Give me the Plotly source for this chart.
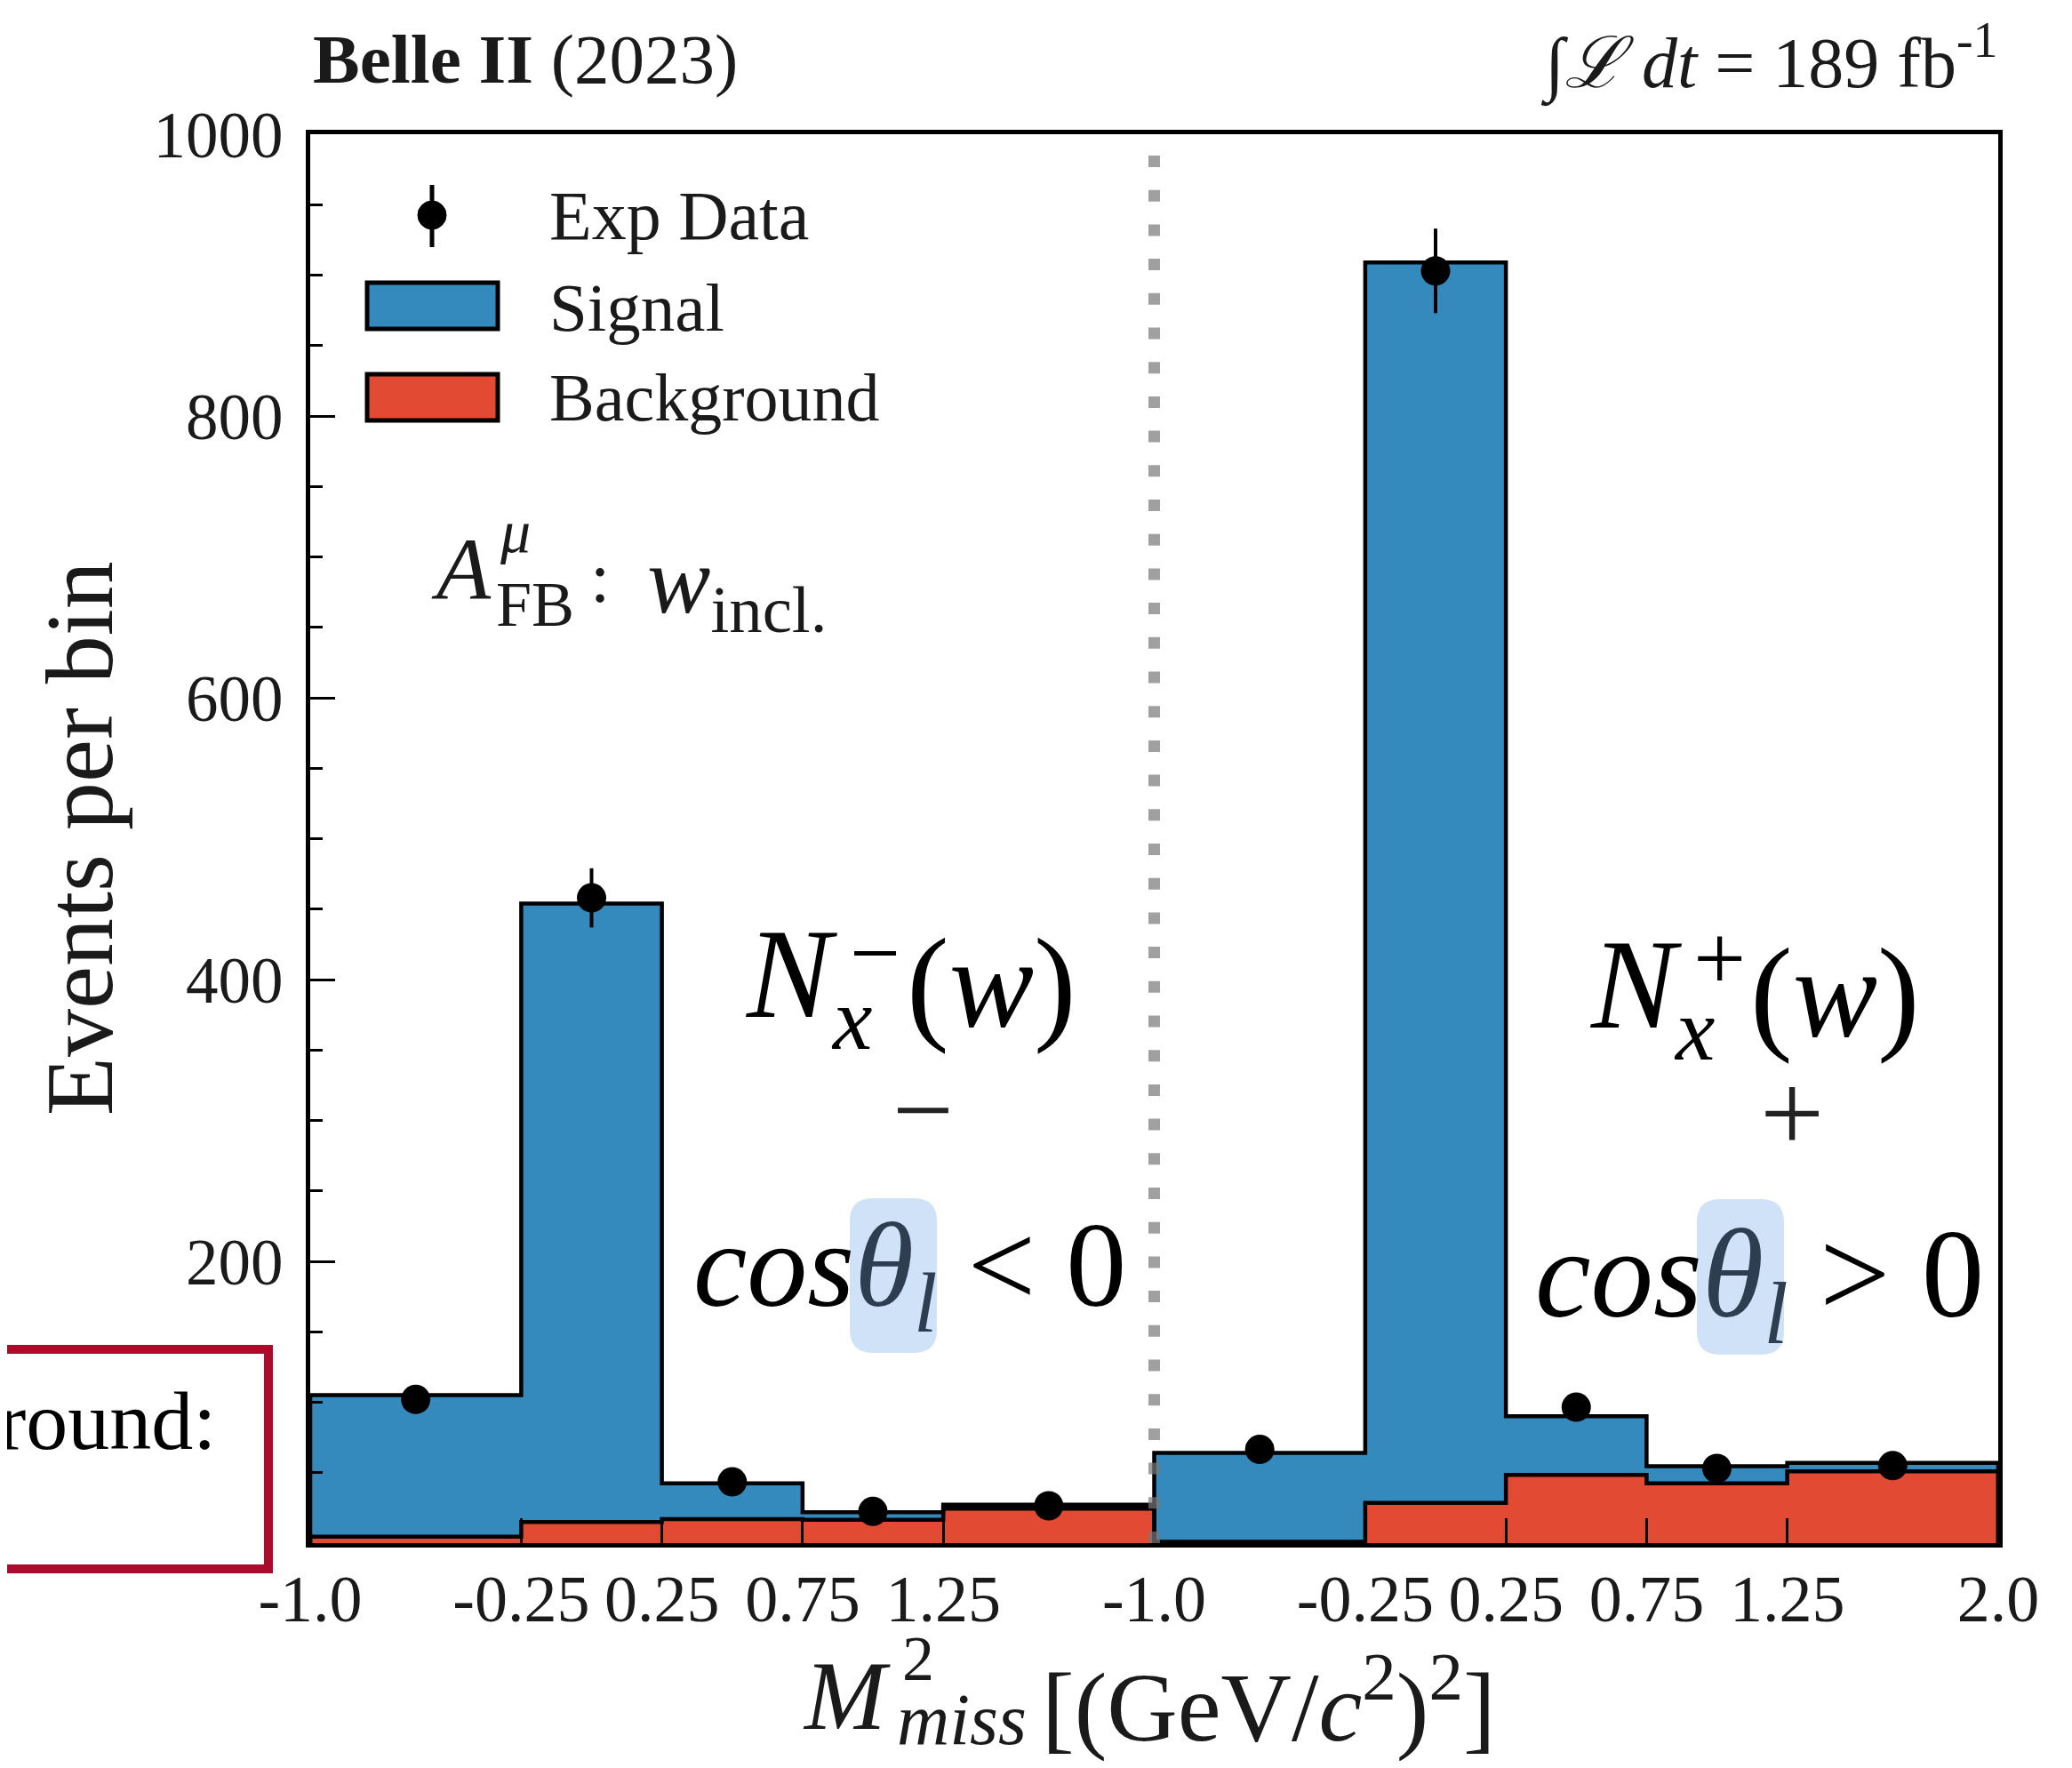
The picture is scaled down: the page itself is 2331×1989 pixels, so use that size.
import plotly.graph_objects as go

# ---------------- data ----------------
# bin edges in M^2_miss [(GeV/c^2)^2], identical for both cos(theta_l) halves
bin_edges = [-1.0, -0.25, 0.25, 0.75, 1.25, 2.0]
tick_labels_neg = ["-1.0", "-0.25", "0.25", "0.75", "1.25"]
tick_labels_pos = ["-1.0", "-0.25", "0.25", "0.75", "1.25", "2.0"]
y_tickvals = [200, 400, 600, 800, 1000]

# cos(theta_l) < 0  (N_x^-)
bkg_neg = [4.5, 15.0, 17.0, 16.5, 24.5]
sig_neg = [100.5, 439.0, 25.5, 5.5, 2.8]
data_neg = [102, 458, 43.5, 22.5, 26.5]
err_neg = [10, 21, 7, 5, 5]

# cos(theta_l) > 0  (N_x^+)
bkg_pos = [1.0, 28.5, 48.5, 42.5, 51.0]
sig_pos = [63.0, 880.5, 41.5, 12.0, 6.0]
data_pos = [66.5, 903, 96.5, 53, 55]
err_pos = [8, 30, 10, 7, 7]

# ---------------- helpers ----------------
FONT = "Liberation Serif"
BLUE = "#348ABD"
RED = "#E24A33"
OFF = 8                      # default body margin of the html page
PAGE_W, PAGE_H = 2331, 1989
W_FIG, H_FIG = PAGE_W - 2 * OFF, PAGE_H - 2 * OFF
# plot area in page pixels
L, R, T, B = 349, 2248, 151, 1736
PW, PH = R - L, B - T


def PX(x):
    return (x - L) / PW


def PY(y):
    return (B - y) / PH


span = bin_edges[-1] - bin_edges[0]


def positions(edges, panel):
    return [(e - edges[0]) + panel * span for e in edges]


def step_xy(edges_pos, heights):
    xs, ys = [edges_pos[0]], [0]
    for i, h in enumerate(heights):
        xs += [edges_pos[i], edges_pos[i + 1]]
        ys += [h, h]
    xs.append(edges_pos[-1])
    ys.append(0)
    return xs, ys


fig = go.Figure()

panels = [(0, bkg_neg, sig_neg, data_neg, err_neg), (1, bkg_pos, sig_pos, data_pos, err_pos)]
for panel, bkg, sig, dat, err in panels:
    ep = positions(bin_edges, panel)
    centers = [(ep[i] + ep[i + 1]) / 2 for i in range(len(bkg))]
    widths = [ep[i + 1] - ep[i] for i in range(len(bkg))]
    fig.add_trace(go.Bar(x=centers, y=bkg, width=widths, marker=dict(color=RED, line=dict(width=0)),
                         showlegend=False, name="Background"))
    fig.add_trace(go.Bar(x=centers, y=sig, width=widths, marker=dict(color=BLUE, line=dict(width=0)),
                         showlegend=False, name="Signal"))

for panel, bkg, sig, dat, err in panels:
    ep = positions(bin_edges, panel)
    tot = [b + s for b, s in zip(bkg, sig)]
    for hts in (bkg, tot):
        xs, ys = step_xy(ep, hts)
        fig.add_trace(go.Scatter(x=xs, y=ys, mode="lines", line=dict(color="black", width=4.5),
                                 showlegend=False, hoverinfo="skip"))

for panel, bkg, sig, dat, err in panels:
    ep = positions(bin_edges, panel)
    centers = [(ep[i] + ep[i + 1]) / 2 for i in range(len(dat))]
    fig.add_trace(go.Scatter(x=centers, y=dat, mode="markers",
                             marker=dict(color="black", size=33),
                             error_y=dict(type="data", array=err, thickness=4, width=0, color="black"),
                             showlegend=False, name="Exp Data"))

tickvals = positions(bin_edges, 0)[:-1] + positions(bin_edges, 1)
ticktext = tick_labels_neg + tick_labels_pos

fig.update_layout(
    width=W_FIG, height=H_FIG,
    margin=dict(l=L - OFF, r=W_FIG - (R - OFF), t=T - OFF, b=H_FIG - (B - OFF), pad=0),
    paper_bgcolor="white", plot_bgcolor="white",
    barmode="stack", bargap=0,
    font=dict(family=FONT, color="#1a1a1a"),
    showlegend=False,
)
fig.update_xaxes(range=[0, 2 * span], tickvals=tickvals, ticktext=ticktext, tickangle=0,
                 ticks="inside", ticklen=28, tickwidth=3, tickcolor="black",
                 showline=True, linewidth=5, linecolor="black", mirror=True, automargin=False,
                 showgrid=False, zeroline=False, tickfont=dict(size=74, family=FONT, color="#1a1a1a"),
                 ticklabelstandoff=-6)
fig.update_yaxes(range=[0, 1000], tickvals=y_tickvals,
                 ticks="inside", ticklen=28, tickwidth=3, tickcolor="black",
                 minor=dict(dtick=50, ticks="inside", ticklen=14, tickwidth=2.5, tickcolor="black"),
                 showline=True, linewidth=5, linecolor="black", mirror=True, automargin=False,
                 showgrid=False, zeroline=False, tickfont=dict(size=73, family=FONT, color="#1a1a1a"),
                 ticklabelstandoff=11)

anns = []
shapes = []

# dotted separator at the panel boundary
shapes.append(dict(type="line", xref="x", yref="y", x0=span, x1=span, y0=0, y1=1000,
                   line=dict(color="rgba(120,120,120,0.7)", width=13, dash="13px,25.7px"), layer="above"))


def ann(text, x, y, size, xanchor="center", yanchor="middle", color="#1a1a1a", angle=0):
    anns.append(dict(text=text, x=PX(x), y=PY(y), xref="paper", yref="paper", showarrow=False,
                     xanchor=xanchor, yanchor=yanchor, textangle=angle,
                     font=dict(family=FONT, size=size, color=color)))


# axis titles
ann("Events per bin", 89, 943, 108, angle=-90)
ann("<i>M</i>", 952, 1908, 110, color="#1a1a1a")
ann("2", 1033, 1866, 72)
ann("<i>miss</i>", 1082, 1934, 82)
ann("[(GeV/<i>c</i><sup>2</sup>)<sup>2</sup>]", 1427, 1912, 110)

# header
ann("<b>Belle II</b> (2023)", 350, 67, 79, xanchor="left")
ann("∫<i>ℒ</i> <i>dt</i> = 189 fb<sup>-1</sup>", 2250, 67, 80, xanchor="right")

# legend (custom glyphs)
ann("Exp Data", 616, 242, 78, xanchor="left")
ann("Signal", 616, 346, 77, xanchor="left")
ann("Background", 616, 447, 76, xanchor="left")
shapes.append(dict(type="rect", xref="paper", yref="paper", x0=PX(413), x1=PX(560), y0=PY(370), y1=PY(318),
                   fillcolor=BLUE, line=dict(color="black", width=5)))
shapes.append(dict(type="rect", xref="paper", yref="paper", x0=PX(413), x1=PX(560), y0=PY(473), y1=PY(421),
                   fillcolor=RED, line=dict(color="black", width=5)))
shapes.append(dict(type="line", xref="paper", yref="paper", x0=PX(486), x1=PX(486), y0=PY(208), y1=PY(278),
                   line=dict(color="black", width=5)))
shapes.append(dict(type="circle", xref="paper", yref="paper", x0=PX(470), x1=PX(502), y0=PY(258), y1=PY(226),
                   fillcolor="black", line=dict(color="black", width=1)))

# A_FB label
ann("<i>A</i>", 483, 640, 100, xanchor="left")
ann("<i>μ</i>", 560, 598, 68, xanchor="left")
ann("FB", 556, 680, 72, xanchor="left")
ann(":", 662, 650, 80, xanchor="left")
ann("<i>w</i><sub>incl.</sub>", 726, 660, 107, xanchor="left")


# big annotations
def rounded_rect(x0, y0, x1, y1, r):
    X0, X1, Y0, Y1 = PX(x0), PX(x1), PY(y1), PY(y0)
    rx, ry = r / PW, r / PH
    return (f"M {X0+rx},{Y0} L {X1-rx},{Y0} Q {X1},{Y0} {X1},{Y0+ry} L {X1},{Y1-ry} "
            f"Q {X1},{Y1} {X1-rx},{Y1} L {X0+rx},{Y1} Q {X0},{Y1} {X0},{Y1-ry} "
            f"L {X0},{Y0+ry} Q {X0},{Y0} {X0+rx},{Y0} Z")


shapes.append(dict(type="path", xref="paper", yref="paper", path=rounded_rect(956, 1348, 1054, 1522, 26),
                   fillcolor="#cfe2f7", line=dict(width=0), layer="above"))
shapes.append(dict(type="path", xref="paper", yref="paper", path=rounded_rect(1909, 1349, 2007, 1524, 26),
                   fillcolor="#cfe2f7", line=dict(width=0), layer="above"))

BIG = 143
# N_x^-(w)
ann("<i>N</i>", 890, 1096, BIG, color="black")
ann("<i>x</i>", 958, 1146, 100, color="black")
ann("−", 984, 1072, 101, color="black")
ann("(<i>w</i>)", 1115, 1107, BIG, color="black")
ann("−", 1038, 1248, 122, color="#222222")
ann("<i>cos</i><span style='color:#2c3e50'><i>θ</i><sub><i>l</i></sub></span> < 0", 1023, 1433, 136, color="black")

# N_x^+(w)
ann("<i>N</i>", 1840, 1108, BIG, color="black")
ann("<i>x</i>", 1906, 1158, 100, color="black")
ann("+", 1934, 1078, 105, color="black")
ann("(<i>w</i>)", 2064, 1118, BIG, color="black")
ann("+", 2016, 1252, 128, color="#222222")
ann("<i>cos</i><span style='color:#2c3e50'><i>θ</i><sub><i>l</i></sub></span> > 0", 1979, 1443, 141, color="black")

# red box on the left
shapes.append(dict(type="rect", xref="paper", yref="paper", x0=PX(-30), x1=PX(302), y0=PY(1765), y1=PY(1518),
                   fillcolor="white", line=dict(color="#AD0B2B", width=10)))
ann("round:", 245, 1598, 94, xanchor="right", color="black")

fig.update_layout(annotations=anns, shapes=shapes)
fig.write_html("out.html")
